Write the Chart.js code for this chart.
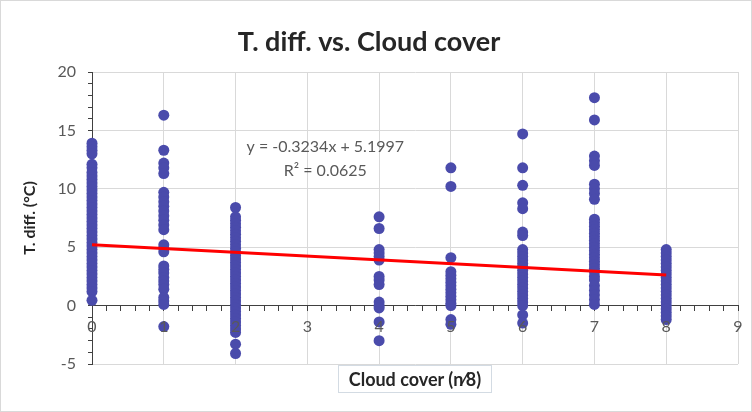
<!DOCTYPE html>
<html>
<head>
<meta charset="utf-8">
<script src="https://cdn.jsdelivr.net/npm/chart.js@4.4.0/dist/chart.umd.min.js"></script>
<style>
  html, body { margin: 0; padding: 0; background: #fff; }
  #wrap { position: relative; width: 752px; height: 412px; }
  #c { position: absolute; left: 0; top: 0; }
  #frame { position: absolute; left: 0; top: 0; width: 750px; height: 410px; border: 1px solid #d9d9d9; pointer-events: none; }
  #xtitle { position: absolute; left: 338px; top: 365px; width: 152px; height: 26px; border: 1px solid #d3dbe3;
            font: bold 18px Lato, sans-serif; color: #262626; text-align: center; line-height: 26px; white-space: nowrap; }
</style>
</head>
<body>
<div id="wrap">
  <canvas id="c" width="752" height="412"></canvas>
  <div id="frame"></div>
  <div id="xtitle">Cloud cover (n⁄8)</div>
</div>
<script>
// ---- data ----
const categories = [0, 1, 2, 4, 5, 6, 7, 8];
const cover0 = [13.9, 13.6, 13.3, 13.0, 12.1, 11.8, 11.4, 11.1, 10.8, 10.5, 10.2, 9.9, 9.6, 9.3, 9.0, 8.7, 8.4, 8.1, 7.8, 7.5, 7.2, 6.9, 6.6, 6.3, 6.0, 5.7, 5.4, 5.1, 4.8, 4.5, 4.2, 3.9, 3.6, 3.3, 3.0, 2.7, 2.4, 2.1, 1.8, 1.5, 1.2, 0.45];
const cover1 = [16.3, 13.3, 12.2, 11.8, 11.3, 9.7, 9.3, 8.9, 8.5, 8.1, 7.7, 7.3, 6.9, 6.5, 5.2, 4.9, 4.6, 3.4, 3.1, 2.8, 2.4, 2.1, 1.8, 1.4, 0.7, 0.4, 0.1, -1.8];
const cover2 = [8.4, 7.6, 7.3, 7.0, 6.7, 6.4, 6.1, 5.8, 5.5, 5.2, 4.9, 4.6, 4.3, 4.0, 3.7, 3.4, 3.1, 2.8, 2.5, 2.2, 1.9, 1.6, 1.3, 1.0, 0.7, 0.4, 0.1, -0.2, -0.5, -0.8, -1.1, -1.4, -1.7, -2.0, -2.3, -3.3, -4.1];
const cover4 = [7.6, 6.6, 4.8, 4.5, 4.2, 3.9, 2.5, 2.2, 1.8, 0.3, 0.0, -0.2, -1.4, -3.0];
const cover5 = [11.8, 10.2, 4.1, 2.9, 2.6, 2.3, 2.0, 1.7, 1.4, 1.1, 0.8, 0.5, 0.2, 0.0, -1.2, -1.6];
const cover6 = [14.7, 11.8, 10.3, 8.8, 8.3, 6.3, 6.0, 4.8, 4.5, 4.2, 3.9, 3.6, 3.3, 3.0, 2.7, 2.4, 2.1, 1.8, 1.5, 1.2, 0.9, 0.6, 0.3, 0.0, -0.8, -1.5];
const cover7 = [17.8, 15.9, 12.8, 12.4, 12.0, 10.4, 10.0, 9.6, 9.1, 7.4, 7.1, 6.8, 6.5, 6.2, 5.9, 5.6, 5.3, 5.0, 4.7, 4.4, 4.1, 3.8, 3.5, 3.2, 2.9, 2.5, 2.2, 1.7, 1.3, 0.9, 0.5, 0.1];
const cover8 = [4.8, 4.5, 4.2, 3.9, 3.6, 3.3, 3.0, 2.7, 2.4, 2.1, 1.8, 1.5, 1.2, 0.9, 0.6, 0.3, 0.0, -0.3, -0.6, -0.9, -1.2];
const valuesByCategory = [cover0, cover1, cover2, cover4, cover5, cover6, cover7, cover8];

const trendX = [0, 8];
const trendY = [5.20, 2.61];

const equationText = ["y = -0.3234x + 5.1997", "R² = 0.0625"];
const equationAt = { x: 3.25, y: [13.6, 11.55] };

const yMin = -5, yMax = 20, yMajor = 5;
const xMin = 0, xMax = 9;

// ---- build chart data ----
const scatterPoints = [];
categories.forEach((c, i) => valuesByCategory[i].forEach(v => scatterPoints.push({ x: c, y: v })));
const trendPoints = trendX.map((x, i) => ({ x: x, y: trendY[i] }));

const isInt = v => Math.abs(v - Math.round(v)) < 1e-6;

const equationPlugin = {
  id: 'equation',
  afterDraw(chart) {
    const { ctx, scales } = chart;
    ctx.save();
    ctx.font = '16px Lato, sans-serif';
    ctx.fillStyle = '#595959';
    ctx.textAlign = 'center';
    ctx.textBaseline = 'middle';
    const px = scales.x.getPixelForValue(equationAt.x);
    equationText.forEach((t, i) => ctx.fillText(t, px, scales.y.getPixelForValue(equationAt.y[i])));
    ctx.restore();
  }
};

Chart.defaults.font.family = 'Lato, sans-serif';

new Chart(document.getElementById('c'), {
  type: 'scatter',
  data: {
    datasets: [
      {
        type: 'line',
        label: 'Trend',
        data: trendPoints,
        borderColor: '#ff0000',
        borderWidth: 3,
        pointRadius: 0,
        fill: false,
        order: 0,
        clip: false
      },
      {
        label: 'T. diff.',
        data: scatterPoints,
        backgroundColor: '#4a4bab',
        borderColor: '#4a4bab',
        borderWidth: 0,
        pointRadius: 5.5,
        pointHoverRadius: 5.5,
        order: 1,
        clip: false
      }
    ]
  },
  options: {
    responsive: false,
    animation: false,
    devicePixelRatio: 1,
    layout: { padding: { left: 0, right: 14, top: 0, bottom: 48 } },
    plugins: {
      legend: { display: false },
      tooltip: { enabled: false },
      title: {
        display: true,
        text: 'T. diff. vs. Cloud cover',
        color: '#262626',
        font: { size: 27, weight: 'bold', family: 'Lato, sans-serif' },
        padding: { top: 26, bottom: 13.6, left: 0, right: 0 }
      }
    },
    scales: {
      x: {
        type: 'linear',
        min: xMin, max: xMax,
        position: { y: 0 },
        ticks: {
          stepSize: 0.2,
          autoSkip: false,
          maxRotation: 0,
          color: '#595959',
          font: { size: 16 },
          padding: 7,
          z: 1,
          callback: v => isInt(v) ? String(Math.round(v)) : ''
        },
        grid: {
          color: c => isInt(c.tick.value) ? '#d9d9d9' : 'rgba(0,0,0,0)',
          tickColor: '#404040',
          tickLength: 5,
          lineWidth: 1
        },
        border: { display: true, color: '#404040', width: 1 }
      },
      y: {
        type: 'linear',
        min: yMin, max: yMax,
        afterFit: s => { s.width = 92; },
        ticks: {
          stepSize: 1,
          autoSkip: false,
          color: '#595959',
          font: { size: 16 },
          padding: 12,
          callback: v => (Math.round(v) % yMajor === 0) ? String(Math.round(v)) : ''
        },
        grid: {
          color: c => (Math.round(c.tick.value) % yMajor === 0) ? '#d9d9d9' : 'rgba(0,0,0,0)',
          tickColor: '#404040',
          tickLength: 4,
          lineWidth: 1
        },
        border: { display: true, color: '#404040', width: 1 },
        title: {
          display: true,
          text: 'T. diff. (°C)',
          color: '#262626',
          font: { size: 16, weight: 'bold' },
          padding: { top: 20, bottom: 0 }
        }
      }
    }
  },
  plugins: [equationPlugin]
});
</script>
</body>
</html>
